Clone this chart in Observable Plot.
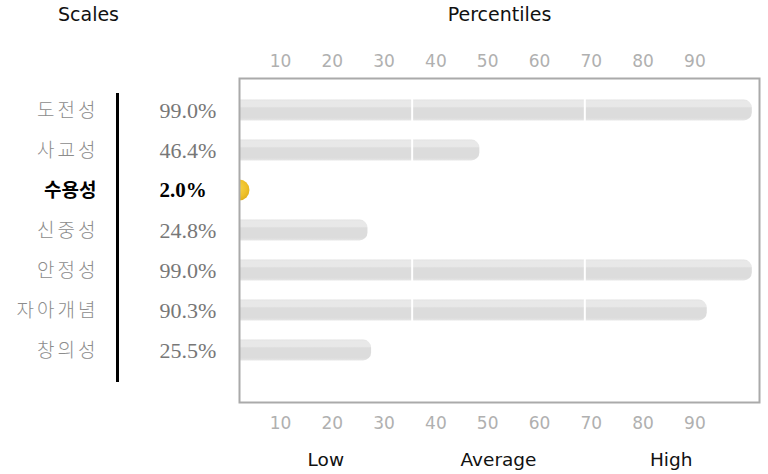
<!DOCTYPE html>
<html>
<head>
<meta charset="utf-8">
<script src="https://cdn.jsdelivr.net/npm/d3@7"></script>
<script src="https://cdn.jsdelivr.net/npm/@observablehq/plot@0.6"></script>
<style>
  html, body { margin: 0; padding: 0; background: #fff; }
  #chart svg { display: block; }
  .cat text { letter-spacing: 3px; }
</style>
</head>
<body>
<div id="chart"></div>
<script>
// ---- data ----
const scales = ["도전성", "사교성", "수용성", "신중성", "안정성", "자아개념", "창의성"];
const percentiles = [99.0, 46.4, 2.0, 24.8, 99.0, 90.3, 25.5];
const selected = "수용성";
const tickValues = [10, 20, 30, 40, 50, 60, 70, 80, 90];
const levelNames = ["Low", "Average", "High"];
const levelBounds = [0, 100 / 3, 200 / 3, 100];

const rows = scales.map((name, i) => ({name, value: percentiles[i]}));
const levels = levelNames.map((label, i) => ({label, lo: levelBounds[i], hi: levelBounds[i + 1]}));

const sans = "DejaVu Sans, Verdana, sans-serif";
const kr = "Noto Sans CJK KR, sans-serif";
const serif = "Liberation Serif, Times New Roman, serif";

const defs = () => {
  const d = d3.create("svg:defs");
  const g = d.append("linearGradient").attr("id", "barGrad").attr("x1", 0).attr("y1", 0).attr("x2", 0).attr("y2", 1);
  [[0, "#e2e2e2"], [0.08, "#e8e8e8"], [0.33, "#e8e8e8"], [0.40, "#dcdcdc"], [0.88, "#dcdcdc"], [1, "#e6e6e6"]]
    .forEach(([o, c]) => g.append("stop").attr("offset", o).attr("stop-color", c));
  const y = d.append("radialGradient").attr("id", "dotGrad").attr("cx", 0.45).attr("cy", 0.4).attr("r", 0.6);
  [[0, "#f7d64a"], [0.7, "#efc12a"], [1, "#e3b21c"]]
    .forEach(([o, c]) => y.append("stop").attr("offset", o).attr("stop-color", c));
  return d.node();
};

const chart = Plot.plot({
  width: 768,
  height: 474,
  marginLeft: 239,
  marginRight: 9,
  marginTop: 78,
  marginBottom: 72,
  x: {domain: [0, 100], range: [239, 757], axis: null},
  y: {domain: scales, axis: null, padding: 0, insetTop: 11.4, insetBottom: 30.8},
  marks: [
    defs,
    Plot.barX(rows.filter(d => d.name !== selected), {
      x1: 0, x2: "value", y: "name",
      fill: "url(#barGrad)", rx: 8,
      insetTop: 9.6, insetBottom: 9.6, insetLeft: -12, clip: true
    }),
    Plot.barX(rows.filter(d => d.name === selected), {
      x1: 0, x2: "value", y: "name",
      fill: "url(#dotGrad)", rx: 10,
      insetTop: 9.6, insetBottom: 9.6, insetLeft: -12, clip: true
    }),
    Plot.ruleX(levelBounds.slice(1, -1), {stroke: "white", strokeWidth: 2}),
    Plot.frame({stroke: "#aaaaaa", strokeWidth: 2}),
    // tick labels top & bottom
    Plot.text(tickValues, {x: d => d, text: d => String(d), frameAnchor: "top", dy: -17, lineAnchor: "middle",
      textAnchor: "end", fill: "#b0b0b0", fontSize: 17, fontFamily: sans}),
    Plot.text(tickValues, {x: d => d, text: d => String(d), frameAnchor: "bottom", dy: 21, lineAnchor: "middle",
      textAnchor: "end", fill: "#b0b0b0", fontSize: 17, fontFamily: sans}),
    // level labels
    Plot.text(levels, {x: d => (d.lo + d.hi) / 2, text: "label", frameAnchor: "bottom", dy: 58, lineAnchor: "middle",
      fill: "#111", fontSize: 18.5, fontFamily: sans}),
    // headers
    Plot.text(["Scales"], {frameAnchor: "top-left", dx: -151, dy: -64, lineAnchor: "middle", textAnchor: "middle",
      fill: "#111", fontSize: 19, fontFamily: sans}),
    Plot.text(["Percentiles"], {frameAnchor: "top", dy: -64, lineAnchor: "middle",
      fill: "#111", fontSize: 19, fontFamily: sans}),
    // category labels
    Plot.text(rows.filter(d => d.name !== selected), {y: "name", text: "name", frameAnchor: "left", dx: -141,
      textAnchor: "end", fill: "#8c8c8c", fontSize: 19, fontWeight: 300, fontFamily: kr, className: "cat"}),
    Plot.text(rows.filter(d => d.name === selected), {y: "name", text: "name", frameAnchor: "left", dx: -143,
      textAnchor: "end", fill: "#000", fontSize: 19, fontWeight: "bold", fontFamily: kr}),
    // values
    Plot.text(rows.filter(d => d.name !== selected), {y: "name", text: d => d.value.toFixed(1) + "%",
      frameAnchor: "left", dx: -80, textAnchor: "start", fill: "#777", fontSize: 22, fontFamily: serif}),
    Plot.text(rows.filter(d => d.name === selected), {y: "name", text: d => d.value.toFixed(1) + "%",
      frameAnchor: "left", dx: -80, textAnchor: "start", fill: "#000", fontSize: 21, fontWeight: "bold",
      fontFamily: serif}),
    // vertical black rule
    Plot.ruleX([0], {dx: -122, insetTop: 15, insetBottom: 20, stroke: "#000", strokeWidth: 3})
  ]
});
document.getElementById("chart").appendChild(chart);
</script>
</body>
</html>
